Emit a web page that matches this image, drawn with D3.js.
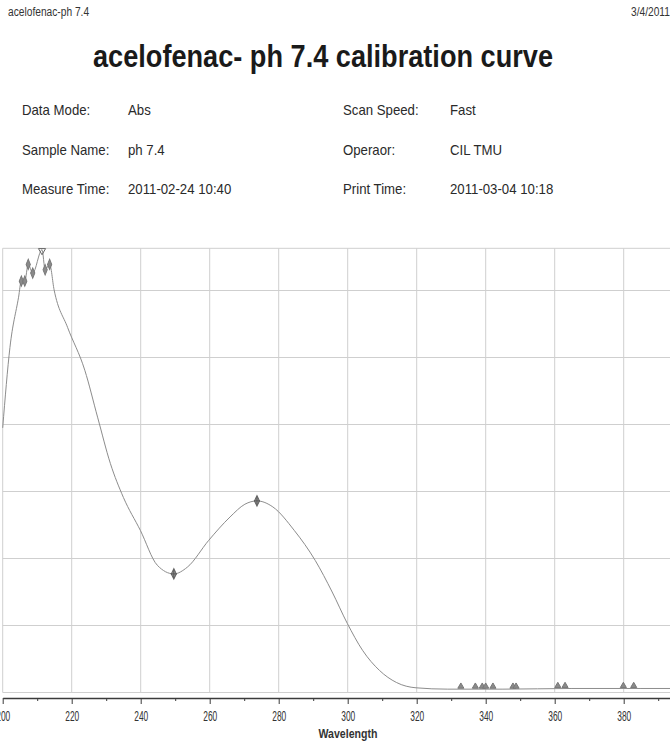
<!DOCTYPE html>
<html>
<head>
<meta charset="utf-8">
<title>acelofenac- ph 7.4 calibration curve</title>
<script src="https://d3js.org/d3.v7.min.js"></script>
<style>
  body { margin: 0; background: #fff; }
  svg { display: block; font-family: "Liberation Sans", Arial, sans-serif; }
</style>
</head>
<body>
<script>
var w = 670;
var h = 753;

// scan of the spectrum (nm, Abs)
var wavelength = [200.0, 202.1, 204.6, 205.4, 206.4, 207.4, 208.7, 211.4, 212.3, 213.6,
                  214.9, 218.8, 223.8, 227.5, 231.2, 235.0, 239.9, 244.8, 249.6, 253.5,
                  259.7, 265.9, 270.2, 273.7, 278.3, 284.5, 290.6, 295.5, 299.9, 304.3,
                  309.2, 314.1, 319.8, 329.0, 345.0, 365.0, 385.0, 400.0];
var absorbance = [0.395, 0.515, 0.590, 0.614, 0.614, 0.639, 0.626, 0.661, 0.631, 0.639,
                  0.601, 0.545, 0.481, 0.411, 0.342, 0.291, 0.242, 0.190, 0.177, 0.187,
                  0.227, 0.262, 0.281, 0.286, 0.277, 0.242, 0.197, 0.150, 0.103, 0.063,
                  0.033, 0.015, 0.007, 0.005, 0.005, 0.006, 0.006, 0.006];

// peak pick markers
var peakNm  = [205.4, 206.4, 207.4, 208.7, 212.3, 213.6];
var peakAbs = [0.614, 0.614, 0.639, 0.626, 0.631, 0.639];
var maxNm = [211.4];
var maxAbs = [0.661];
var pickNm  = [249.6, 273.7];
var pickAbs = [0.177, 0.286];
var baseNm  = [332.8, 337.0, 339.0, 340.0, 342.1, 347.9, 348.8, 360.9, 363.0, 379.9, 382.9];
var baseAbs = [0.009, 0.009, 0.009, 0.009, 0.009, 0.009, 0.009, 0.010, 0.010, 0.010, 0.010];

var xGrid = d3.range(200, 401, 20);
var xTicks = d3.range(200, 381, 20);
var xMinor = d3.range(210, 400, 20);
var yGrid = [0, 0.1, 0.2, 0.3, 0.4, 0.5, 0.6];

var infoLabels = ["Data Mode:", "Sample Name:", "Measure Time:"];
var infoValues = ["Abs", "ph 7.4", "2011-02-24 10:40"];
var infoLabels2 = ["Scan Speed:", "Operaor:", "Print Time:"];
var infoValues2 = ["Fast", "CIL TMU", "2011-03-04 10:18"];

var svg = d3.select("body").append("svg")
            .attr("width", w)
            .attr("height", h);

// the printout font is a little narrow, squeeze each text
function squeeze(sel, k) {
  sel.each(function() {
    var len = this.getComputedTextLength();
    d3.select(this).attr("textLength", len * k).attr("lengthAdjust", "spacingAndGlyphs");
  });
}

// header
svg.append("text").text("acelofenac-ph 7.4")
   .attr("x", 8).attr("y", 16)
   .attr("font-size", 12).attr("fill", "#333")
   .call(squeeze, 0.85);
svg.append("text").text("3/4/2011")
   .attr("x", 631).attr("y", 16)
   .attr("font-size", 12).attr("fill", "#333")
   .call(squeeze, 0.85);

svg.append("text").text("acelofenac- ph 7.4 calibration curve")
   .attr("x", 323).attr("y", 67)
   .attr("text-anchor", "middle")
   .attr("font-size", 31).attr("font-weight", "bold").attr("fill", "#1a1a1a")
   .attr("textLength", 460).attr("lengthAdjust", "spacingAndGlyphs");

var rowY = [115, 155, 194];
function infoCol(labels, values, x1, x2) {
  labels.forEach(function(t, i) {
    svg.append("text").text(t).attr("x", x1).attr("y", rowY[i])
       .attr("font-size", 15).attr("fill", "#2a2a2a").call(squeeze, 0.88);
    svg.append("text").text(values[i]).attr("x", x2).attr("y", rowY[i])
       .attr("font-size", 15).attr("fill", "#2a2a2a").call(squeeze, 0.88);
  });
}
infoCol(infoLabels, infoValues, 22, 128);
infoCol(infoLabels2, infoValues2, 343, 450);

// scales
var xScale = d3.scaleLinear().domain([200, 400]).range([2.7, 692.7]);
var yScale = d3.scaleLinear().domain([0, 0.663]).range([692.5, 248.3]);

// grid
var grid = svg.append("g").attr("stroke", "#cfcfcf").attr("stroke-width", 1);
grid.selectAll("line.v").data(xGrid).enter().append("line")
    .attr("class", "v")
    .attr("x1", function(d){ return xScale(d); })
    .attr("x2", function(d){ return xScale(d); })
    .attr("y1", yScale(0.663)).attr("y2", yScale(0));
grid.selectAll("line.h").data(yGrid).enter().append("line")
    .attr("class", "h")
    .attr("x1", xScale(200)).attr("x2", xScale(400))
    .attr("y1", function(d){ return yScale(d); })
    .attr("y2", function(d){ return yScale(d); });
grid.append("line")
    .attr("x1", xScale(200)).attr("x2", xScale(400))
    .attr("y1", yScale(0.663)).attr("y2", yScale(0.663));

// spectrum
var pts = wavelength.map(function(d, i){ return [d, absorbance[i]]; });
var line = d3.line()
             .x(function(d){ return xScale(d[0]); })
             .y(function(d){ return yScale(d[1]); })
             .curve(d3.curveMonotoneX);
svg.append("path").datum(pts)
   .attr("d", line)
   .attr("fill", "none")
   .attr("stroke", "#8c8c8c")
   .attr("stroke-width", 1);

// markers
var diamond = d3.symbol().type(d3.symbolDiamond).size(22);
svg.selectAll("path.pk").data(peakNm).enter().append("path")
   .attr("class", "pk")
   .attr("d", diamond)
   .attr("transform", function(d, i){ return "translate(" + xScale(d) + "," + yScale(peakAbs[i]) + ") scale(0.85,1.2)"; })
   .attr("fill", "#8a8a8a").attr("stroke", "#777");

svg.selectAll("path.mx").data(maxNm).enter().append("path")
   .attr("class", "mx")
   .attr("d", d3.symbol().type(d3.symbolTriangle).size(22))
   .attr("transform", function(d, i){ return "translate(" + xScale(d) + "," + (yScale(maxAbs[i]) + 1) + ") rotate(180)"; })
   .attr("fill", "none").attr("stroke", "#666");

var picks = svg.selectAll("g.pick").data(pickNm).enter().append("g")
   .attr("class", "pick")
   .attr("transform", function(d, i){ return "translate(" + xScale(d) + "," + yScale(pickAbs[i]) + ")"; });
picks.append("path").attr("d", diamond)
   .attr("transform", "scale(1,1.2)")
   .attr("fill", "#9a9a9a").attr("stroke", "#666");
picks.append("path").attr("d", "M-3,0H3M0,-4V4")
   .attr("stroke", "#555").attr("stroke-width", 1);

svg.selectAll("path.bs").data(baseNm).enter().append("path")
   .attr("class", "bs")
   .attr("d", d3.symbol().type(d3.symbolTriangle).size(16))
   .attr("transform", function(d, i){ return "translate(" + xScale(d) + "," + yScale(baseAbs[i]) + ")"; })
   .attr("fill", "#8a8a8a").attr("stroke", "#777");

// x axis
var axisY = 698;
var xAxis = d3.axisBottom(xScale).tickValues(xTicks).tickSize(6).tickSizeOuter(0).tickPadding(7);
var gx = svg.append("g").attr("transform", "translate(0," + axisY + ")").call(xAxis);
gx.select(".domain").attr("stroke", "#3a3a3a").attr("stroke-width", 1.5);
gx.selectAll(".tick line").attr("stroke", "#3a3a3a");
gx.selectAll(".tick text")
  .attr("font-size", 14)
  .attr("font-family", "Liberation Sans, Arial, sans-serif")
  .attr("fill", "#333")
  .attr("textLength", 14).attr("lengthAdjust", "spacingAndGlyphs");

var minor = d3.axisBottom(xScale).tickValues(xMinor).tickSize(3).tickSizeOuter(0).tickFormat("");
var gm = svg.append("g").attr("transform", "translate(0," + axisY + ")").call(minor);
gm.select(".domain").remove();
gm.selectAll(".tick line").attr("stroke", "#3a3a3a");

svg.append("text").text("Wavelength")
   .attr("x", 348).attr("y", 738)
   .attr("text-anchor", "middle")
   .attr("font-size", 13).attr("font-weight", "bold").attr("fill", "#333")
   .attr("textLength", 59).attr("lengthAdjust", "spacingAndGlyphs");
</script>
</body>
</html>
